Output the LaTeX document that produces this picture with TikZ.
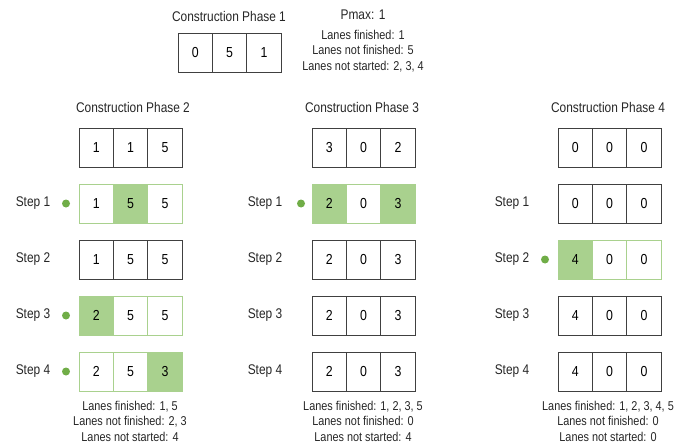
\documentclass[tikz,border=0pt]{standalone}
\usepackage{fontspec}
\setmainfont{Liberation Sans}[FakeStretch=0.85]
\definecolor{grnfill}{HTML}{A9D18E}
\definecolor{grnline}{HTML}{A9D18E}
\definecolor{grndot}{HTML}{70AD47}
\newcommand\mkrow[9]{%
  \node[#5] (#1a) at (#2+17.2,#3) {#4};
  \node[#7] (#1b) at (#2+51.6,#3) {#6};
  \node[#9] (#1c) at (#2+86,#3) {#8};
}
\begin{document}
\begin{tikzpicture}[x=1pt,y=-1pt,
  cellbox/.style={draw=black!75, line width=0.9pt, minimum width=34.4pt, minimum height=39pt, inner sep=0pt, font=\fontsize{14.5}{16}\selectfont, fill=white},
  gcell/.style={cellbox, draw=grnline},
  gfill/.style={gcell, fill=grnfill},
  lbl/.style={font=\fontsize{14}{16}\selectfont, inner sep=0pt, text=black!85},
  info/.style={lbl, align=center, font=\fontsize{12.8}{15.5}\selectfont},
  dotmark/.style={circle, fill=grndot, inner sep=0pt, minimum size=8pt}]
\useasboundingbox (0,0) rectangle (686,444);
% Phase 1
\node[lbl] (t1) at (229,16) {Construction Phase 1};
\node[lbl] (pmax) at (363,15) {Pmax: 1};
\node[info] (i1) at (363,51) {Lanes finished: 1\\Lanes not finished: 5\\Lanes not started: 2, 3, 4};
\mkrow{pa}{178}{53}{0}{cellbox}{5}{cellbox}{1}{cellbox}
% Phase 2
\node[lbl] (t2) at (133,107) {Construction Phase 2};
\mkrow{qa}{79}{147.5}{1}{cellbox}{1}{cellbox}{5}{cellbox}
\mkrow{qb}{79}{203.5}{1}{gcell}{5}{gfill}{5}{gcell}
\mkrow{qc}{79}{259.5}{1}{cellbox}{5}{cellbox}{5}{cellbox}
\mkrow{qd}{79}{315.5}{2}{gfill}{5}{gcell}{5}{gcell}
\mkrow{qe}{79}{371.5}{2}{gcell}{5}{gcell}{3}{gfill}
\node[lbl] (qs1) at (33,203.5) {Step 1};
\node[lbl] (qs2) at (33,259.5) {Step 2};
\node[lbl] (qs3) at (33,315.5) {Step 3};
\node[lbl] (qs4) at (33,371.5) {Step 4};
\node[dotmark] (qd1) at (66,203.5) {};
\node[dotmark] (qd3) at (66,315.5) {};
\node[dotmark] (qd4) at (66,371.5) {};
\node[info] (i2) at (130,421) {Lanes finished: 1, 5\\Lanes not finished: 2, 3\\Lanes not started: 4};
% Phase 3
\node[lbl] (t3) at (362,107) {Construction Phase 3};
\mkrow{ra}{312}{147.5}{3}{cellbox}{0}{cellbox}{2}{cellbox}
\mkrow{rb}{312}{203.5}{2}{gfill}{0}{gcell}{3}{gfill}
\mkrow{rc}{312}{259.5}{2}{cellbox}{0}{cellbox}{3}{cellbox}
\mkrow{rd}{312}{315.5}{2}{cellbox}{0}{cellbox}{3}{cellbox}
\mkrow{re}{312}{371.5}{2}{cellbox}{0}{cellbox}{3}{cellbox}
\node[lbl] (rs1) at (265,203.5) {Step 1};
\node[lbl] (rs2) at (265,259.5) {Step 2};
\node[lbl] (rs3) at (265,315.5) {Step 3};
\node[lbl] (rs4) at (265,371.5) {Step 4};
\node[dotmark] (rd1) at (301,203.5) {};
\node[info] (i3) at (363,421) {Lanes finished: 1, 2, 3, 5\\Lanes not finished: 0\\Lanes not started: 4};
% Phase 4
\node[lbl] (t4) at (608,107) {Construction Phase 4};
\mkrow{sa}{558}{147.5}{0}{cellbox}{0}{cellbox}{0}{cellbox}
\mkrow{sb}{558}{203.5}{0}{cellbox}{0}{cellbox}{0}{cellbox}
\mkrow{sc}{558}{259.5}{4}{gfill}{0}{gcell}{0}{gcell}
\mkrow{sd}{558}{315.5}{4}{cellbox}{0}{cellbox}{0}{cellbox}
\mkrow{se}{558}{371.5}{4}{cellbox}{0}{cellbox}{0}{cellbox}
\node[lbl] (ss1) at (512,203.5) {Step 1};
\node[lbl] (ss2) at (512,259.5) {Step 2};
\node[lbl] (ss3) at (512,315.5) {Step 3};
\node[lbl] (ss4) at (512,371.5) {Step 4};
\node[dotmark] (sd2) at (545,259.5) {};
\node[info] (i4) at (608,421) {Lanes finished: 1, 2, 3, 4, 5\\Lanes not finished: 0\\Lanes not started: 0};
\end{tikzpicture}
\end{document}
